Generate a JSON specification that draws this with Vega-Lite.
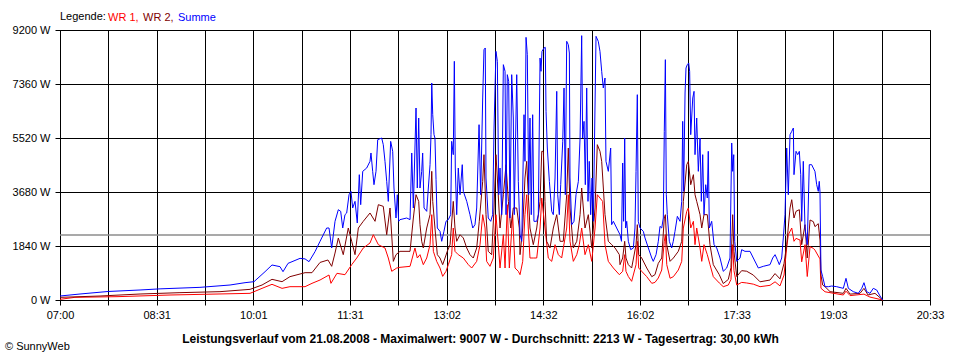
{
"$schema": "https://vega.github.io/schema/vega-lite/v6.json",
"width": 870, "height": 270,
"autosize": {"type": "none"},
"padding": {"left": 60, "top": 30, "right": 30, "bottom": 60},
"background": "white",
"title": {"text": "© SunnyWeb", "orient": "bottom", "anchor": "start", "frame": "group", "dx": -55, "offset": -3, "fontSize": 11, "font": "Liberation Sans", "fontWeight": "normal", "color": "black"},
"config": {
  "font": "Liberation Sans",
  "view": {"stroke": "black", "strokeWidth": 1},
  "axis": {"labelFont": "Liberation Sans", "labelFontSize": 11, "labelColor": "black", "domainColor": "black", "tickColor": "black", "gridColor": "black", "gridOpacity": 1, "gridWidth": 1, "tickSize": 5, "domainWidth": 1, "tickWidth": 1},
  "legend": {"orient": "none", "legendX": 0, "legendY": -18, "direction": "horizontal", "titleOrient": "left", "titleFontWeight": "normal", "titleFontSize": 11, "titleFont": "Liberation Sans", "titleColor": "black", "titlePadding": -9, "labelFont": "Liberation Sans", "labelFontSize": 11, "symbolSize": 0, "symbolStrokeWidth": 0, "symbolOpacity": 0, "labelOffset": 0, "columnPadding": -7, "gridAlign": "none", "padding": 0}
},
"datasets": {
"summe": [
{"s":"Summe","t":420,"w":136},{"s":"Summe","t":438.7,"w":204},{"s":"Summe","t":464.9,"w":290},{"s":"Summe","t":494.8,"w":341},{"s":"Summe","t":513.5,"w":380},{"s":"Summe","t":550.8,"w":431},{"s":"Summe","t":578.9,"w":511},{"s":"Summe","t":592.9,"w":590},{"s":"Summe","t":601.3,"w":624},{"s":"Summe","t":611.6,"w":965},{"s":"Summe","t":618.1,"w":1193},{"s":"Summe","t":625.6,"w":1136},{"s":"Summe","t":628.4,"w":965},{"s":"Summe","t":633.1,"w":1249},{"s":"Summe","t":644.3,"w":1419},{"s":"Summe","t":649.0,"w":1400},{"s":"Summe","t":652.7,"w":1306},{"s":"Summe","t":658.3,"w":1647},{"s":"Summe","t":663.0,"w":2000},{"s":"Summe","t":669.2,"w":2453},{"s":"Summe","t":671.4,"w":2453},{"s":"Summe","t":673.9,"w":1772},{"s":"Summe","t":677.0,"w":2681},{"s":"Summe","t":680.1,"w":3077},{"s":"Summe","t":682.3,"w":3020},{"s":"Summe","t":684.2,"w":2453},{"s":"Summe","t":686.3,"w":2907},{"s":"Summe","t":687.9,"w":2964},{"s":"Summe","t":690.1,"w":3588},{"s":"Summe","t":691.9,"w":3702},{"s":"Summe","t":693.5,"w":3135},{"s":"Summe","t":695.7,"w":3361},{"s":"Summe","t":697.8,"w":2624},{"s":"Summe","t":699.7,"w":4270},{"s":"Summe","t":701.0,"w":3248},{"s":"Summe","t":702.9,"w":4384},{"s":"Summe","t":706.6,"w":4497},{"s":"Summe","t":709.7,"w":4725},{"s":"Summe","t":710.6,"w":5009},{"s":"Summe","t":712.2,"w":4384},{"s":"Summe","t":713.4,"w":3929},{"s":"Summe","t":715.3,"w":4384},{"s":"Summe","t":716.9,"w":5463},{"s":"Summe","t":720.6,"w":5520},{"s":"Summe","t":722.1,"w":5293},{"s":"Summe","t":723.7,"w":4725},{"s":"Summe","t":725.3,"w":4043},{"s":"Summe","t":726.8,"w":3361},{"s":"Summe","t":729.0,"w":5406},{"s":"Summe","t":730.9,"w":5066},{"s":"Summe","t":732.1,"w":3816},{"s":"Summe","t":734.0,"w":2794},{"s":"Summe","t":735.2,"w":3588},{"s":"Summe","t":736.5,"w":2681},{"s":"Summe","t":737.7,"w":2738},{"s":"Summe","t":744.0,"w":2794},{"s":"Summe","t":747.1,"w":2738},{"s":"Summe","t":748.7,"w":5009},{"s":"Summe","t":750.2,"w":3135},{"s":"Summe","t":752.7,"w":6542},{"s":"Summe","t":753.9,"w":3816},{"s":"Summe","t":755.2,"w":6201},{"s":"Summe","t":756.4,"w":3816},{"s":"Summe","t":758.0,"w":4384},{"s":"Summe","t":758.9,"w":5009},{"s":"Summe","t":760.2,"w":3135},{"s":"Summe","t":762.7,"w":3021},{"s":"Summe","t":764.2,"w":3816},{"s":"Summe","t":765.8,"w":4611},{"s":"Summe","t":766.7,"w":5633},{"s":"Summe","t":767.4,"w":7394},{"s":"Summe","t":768.3,"w":6314},{"s":"Summe","t":769.5,"w":5633},{"s":"Summe","t":770.4,"w":5520},{"s":"Summe","t":771.4,"w":4100},{"s":"Summe","t":772.6,"w":2453},{"s":"Summe","t":775.1,"w":2340},{"s":"Summe","t":776.7,"w":2000},{"s":"Summe","t":778.8,"w":2340},{"s":"Summe","t":780.7,"w":2681},{"s":"Summe","t":782.9,"w":2738},{"s":"Summe","t":785.1,"w":2907},{"s":"Summe","t":786.0,"w":5406},{"s":"Summe","t":787.5,"w":4952},{"s":"Summe","t":788.5,"w":8133},{"s":"Summe","t":789.4,"w":4497},{"s":"Summe","t":790.7,"w":2907},{"s":"Summe","t":792.2,"w":4497},{"s":"Summe","t":793.8,"w":3588},{"s":"Summe","t":795.9,"w":4611},{"s":"Summe","t":796.9,"w":3702},{"s":"Summe","t":800.1,"w":3361},{"s":"Summe","t":803.1,"w":2907},{"s":"Summe","t":805.7,"w":2453},{"s":"Summe","t":807.8,"w":2567},{"s":"Summe","t":809.4,"w":3135},{"s":"Summe","t":811.6,"w":5974},{"s":"Summe","t":813.1,"w":3588},{"s":"Summe","t":815.0,"w":6883},{"s":"Summe","t":816.2,"w":8529},{"s":"Summe","t":817.4,"w":8587},{"s":"Summe","t":818.1,"w":4157},{"s":"Summe","t":820.2,"w":2794},{"s":"Summe","t":822.5,"w":2681},{"s":"Summe","t":824.3,"w":2907},{"s":"Summe","t":825.6,"w":5860},{"s":"Summe","t":827.4,"w":8473},{"s":"Summe","t":828.7,"w":8133},{"s":"Summe","t":830.0,"w":3588},{"s":"Summe","t":831.2,"w":4497},{"s":"Summe","t":832.8,"w":2907},{"s":"Summe","t":834.3,"w":8019},{"s":"Summe","t":835.9,"w":7792},{"s":"Summe","t":836.8,"w":2907},{"s":"Summe","t":838.0,"w":7678},{"s":"Summe","t":839.3,"w":7451},{"s":"Summe","t":840.5,"w":2794},{"s":"Summe","t":842.1,"w":7678},{"s":"Summe","t":843.6,"w":6201},{"s":"Summe","t":844.5,"w":2907},{"s":"Summe","t":846.8,"w":7678},{"s":"Summe","t":848.3,"w":4043},{"s":"Summe","t":849.9,"w":2226},{"s":"Summe","t":851.5,"w":2000},{"s":"Summe","t":853.6,"w":6314},{"s":"Summe","t":854.5,"w":4725},{"s":"Summe","t":855.5,"w":8950},{"s":"Summe","t":856.7,"w":8359},{"s":"Summe","t":858.0,"w":3588},{"s":"Summe","t":859.2,"w":6201},{"s":"Summe","t":860.4,"w":2907},{"s":"Summe","t":861.7,"w":6314},{"s":"Summe","t":862.9,"w":2681},{"s":"Summe","t":865.5,"w":2681},{"s":"Summe","t":867.0,"w":2907},{"s":"Summe","t":868.6,"w":8245},{"s":"Summe","t":869.5,"w":7792},{"s":"Summe","t":870.4,"w":8473},{"s":"Summe","t":872.3,"w":8587},{"s":"Summe","t":873.5,"w":8609},{"s":"Summe","t":874.2,"w":6428},{"s":"Summe","t":875.4,"w":5179},{"s":"Summe","t":877.3,"w":4043},{"s":"Summe","t":879.5,"w":3021},{"s":"Summe","t":881.0,"w":2907},{"s":"Summe","t":882.6,"w":4157},{"s":"Summe","t":884.2,"w":7110},{"s":"Summe","t":885.1,"w":3588},{"s":"Summe","t":886.6,"w":2907},{"s":"Summe","t":887.9,"w":3929},{"s":"Summe","t":889.8,"w":5406},{"s":"Summe","t":891.0,"w":7224},{"s":"Summe","t":892.2,"w":3588},{"s":"Summe","t":893.5,"w":8814},{"s":"Summe","t":895.0,"w":8700},{"s":"Summe","t":896.0,"w":8416},{"s":"Summe","t":896.6,"w":4157},{"s":"Summe","t":898.2,"w":2567},{"s":"Summe","t":900.3,"w":2681},{"s":"Summe","t":902.2,"w":3588},{"s":"Summe","t":904.4,"w":4043},{"s":"Summe","t":906.0,"w":5520},{"s":"Summe","t":907.5,"w":9007},{"s":"Summe","t":908.4,"w":5520},{"s":"Summe","t":909.7,"w":6087},{"s":"Summe","t":910.9,"w":3929},{"s":"Summe","t":912.2,"w":7224},{"s":"Summe","t":913.4,"w":3361},{"s":"Summe","t":914.6,"w":4725},{"s":"Summe","t":915.9,"w":2907},{"s":"Summe","t":917.2,"w":4157},{"s":"Summe","t":918.4,"w":2681},{"s":"Summe","t":920.9,"w":8984},{"s":"Summe","t":923.0,"w":8814},{"s":"Summe","t":924.6,"w":8473},{"s":"Summe","t":926.2,"w":7792},{"s":"Summe","t":927.7,"w":7224},{"s":"Summe","t":929.3,"w":7564},{"s":"Summe","t":930.2,"w":4725},{"s":"Summe","t":932.4,"w":4384},{"s":"Summe","t":934.6,"w":5179},{"s":"Summe","t":935.5,"w":2567},{"s":"Summe","t":937.1,"w":2681},{"s":"Summe","t":940.2,"w":2453},{"s":"Summe","t":943.3,"w":2226},{"s":"Summe","t":944.7,"w":2000},{"s":"Summe","t":945.8,"w":4668},{"s":"Summe","t":946.7,"w":2681},{"s":"Summe","t":947.7,"w":5520},{"s":"Summe","t":948.6,"w":2453},{"s":"Summe","t":949.6,"w":2681},{"s":"Summe","t":951.1,"w":2000},{"s":"Summe","t":953.3,"w":1715},{"s":"Summe","t":955.8,"w":1772},{"s":"Summe","t":957.3,"w":2453},{"s":"Summe","t":958.3,"w":4384},{"s":"Summe","t":959.5,"w":6996},{"s":"Summe","t":960.4,"w":2681},{"s":"Summe","t":962.0,"w":2453},{"s":"Summe","t":965.1,"w":2340},{"s":"Summe","t":966.7,"w":2113},{"s":"Summe","t":969.8,"w":1772},{"s":"Summe","t":973.0,"w":1431},{"s":"Summe","t":974.4,"w":1317},{"s":"Summe","t":977.0,"w":1545},{"s":"Summe","t":979.1,"w":2000},{"s":"Summe","t":980.7,"w":2510},{"s":"Summe","t":982.3,"w":2453},{"s":"Summe","t":983.8,"w":2794},{"s":"Summe","t":984.7,"w":5747},{"s":"Summe","t":985.7,"w":8189},{"s":"Summe","t":986.6,"w":3588},{"s":"Summe","t":987.5,"w":2907},{"s":"Summe","t":989.4,"w":2000},{"s":"Summe","t":991.6,"w":1772},{"s":"Summe","t":993.1,"w":2000},{"s":"Summe","t":994.7,"w":2340},{"s":"Summe","t":996.9,"w":2851},{"s":"Summe","t":999.4,"w":2681},{"s":"Summe","t":1001.0,"w":3361},{"s":"Summe","t":1001.9,"w":6087},{"s":"Summe","t":1002.8,"w":3702},{"s":"Summe","t":1004.1,"w":7053},{"s":"Summe","t":1005.0,"w":7905},{"s":"Summe","t":1006.2,"w":8019},{"s":"Summe","t":1007.5,"w":8075},{"s":"Summe","t":1008.4,"w":7792},{"s":"Summe","t":1009.4,"w":5633},{"s":"Summe","t":1011.3,"w":6883},{"s":"Summe","t":1012.5,"w":7110},{"s":"Summe","t":1013.4,"w":4952},{"s":"Summe","t":1015.0,"w":6201},{"s":"Summe","t":1016.5,"w":4384},{"s":"Summe","t":1018.1,"w":5520},{"s":"Summe","t":1019.3,"w":3361},{"s":"Summe","t":1020.6,"w":4952},{"s":"Summe","t":1021.8,"w":2907},{"s":"Summe","t":1023.4,"w":3929},{"s":"Summe","t":1024.9,"w":3475},{"s":"Summe","t":1025.8,"w":5066},{"s":"Summe","t":1026.8,"w":2453},{"s":"Summe","t":1029.0,"w":2681},{"s":"Summe","t":1031.2,"w":1885},{"s":"Summe","t":1033.7,"w":1772},{"s":"Summe","t":1036.8,"w":1431},{"s":"Summe","t":1039.8,"w":977},{"s":"Summe","t":1043.0,"w":1090},{"s":"Summe","t":1046.1,"w":1431},{"s":"Summe","t":1047.7,"w":5350},{"s":"Summe","t":1048.6,"w":4384},{"s":"Summe","t":1049.6,"w":4952},{"s":"Summe","t":1050.5,"w":2000},{"s":"Summe","t":1052.4,"w":1317},{"s":"Summe","t":1055.5,"w":1431},{"s":"Summe","t":1057.0,"w":1715},{"s":"Summe","t":1060.1,"w":1658},{"s":"Summe","t":1064.8,"w":1658},{"s":"Summe","t":1067.9,"w":1431},{"s":"Summe","t":1072.6,"w":1090},{"s":"Summe","t":1077.2,"w":1147},{"s":"Summe","t":1083.5,"w":1204},{"s":"Summe","t":1086.0,"w":1431},{"s":"Summe","t":1088.2,"w":1545},{"s":"Summe","t":1090.3,"w":1375},{"s":"Summe","t":1092.2,"w":1204},{"s":"Summe","t":1094.4,"w":1431},{"s":"Summe","t":1095.9,"w":2113},{"s":"Summe","t":1097.5,"w":2907},{"s":"Summe","t":1099.1,"w":5179},{"s":"Summe","t":1100.6,"w":3588},{"s":"Summe","t":1102.2,"w":5633},{"s":"Summe","t":1103.8,"w":5747},{"s":"Summe","t":1105.3,"w":5860},{"s":"Summe","t":1105.9,"w":4270},{"s":"Summe","t":1107.8,"w":5066},{"s":"Summe","t":1109.4,"w":4952},{"s":"Summe","t":1110.9,"w":5066},{"s":"Summe","t":1112.2,"w":4270},{"s":"Summe","t":1113.1,"w":2681},{"s":"Summe","t":1114.6,"w":4725},{"s":"Summe","t":1116.2,"w":2453},{"s":"Summe","t":1118.3,"w":1885},{"s":"Summe","t":1120.2,"w":4611},{"s":"Summe","t":1122.4,"w":4611},{"s":"Summe","t":1123.9,"w":4497},{"s":"Summe","t":1125.5,"w":4384},{"s":"Summe","t":1127.1,"w":3929},{"s":"Summe","t":1128.6,"w":3702},{"s":"Summe","t":1129.5,"w":4043},{"s":"Summe","t":1130.2,"w":3690},{"s":"Summe","t":1131.1,"w":1022},{"s":"Summe","t":1132.7,"w":795},{"s":"Summe","t":1134.9,"w":454},{"s":"Summe","t":1138.0,"w":454},{"s":"Summe","t":1141.1,"w":476},{"s":"Summe","t":1145.8,"w":454},{"s":"Summe","t":1152.0,"w":397},{"s":"Summe","t":1154.5,"w":738},{"s":"Summe","t":1156.7,"w":397},{"s":"Summe","t":1161.3,"w":284},{"s":"Summe","t":1166.0,"w":227},{"s":"Summe","t":1169.2,"w":397},{"s":"Summe","t":1171.3,"w":590},{"s":"Summe","t":1173.8,"w":284},{"s":"Summe","t":1176.9,"w":227},{"s":"Summe","t":1180.0,"w":397},{"s":"Summe","t":1183.2,"w":340},{"s":"Summe","t":1186.3,"w":136},{"s":"Summe","t":1188.8,"w":0}
],
"wr2": [
{"s":"WR 2","t":420,"w":91},{"s":"WR 2","t":457.4,"w":136},{"s":"WR 2","t":494.8,"w":204},{"s":"WR 2","t":532.1,"w":250},{"s":"WR 2","t":569.5,"w":284},{"s":"WR 2","t":597.6,"w":363},{"s":"WR 2","t":608.8,"w":511},{"s":"WR 2","t":618.1,"w":704},{"s":"WR 2","t":627.5,"w":624},{"s":"WR 2","t":634.9,"w":795},{"s":"WR 2","t":649.0,"w":931},{"s":"WR 2","t":655.5,"w":931},{"s":"WR 2","t":663.0,"w":1280},{"s":"WR 2","t":670.4,"w":1363},{"s":"WR 2","t":673.9,"w":1147},{"s":"WR 2","t":677.0,"w":1600},{"s":"WR 2","t":680.1,"w":2113},{"s":"WR 2","t":684.7,"w":1545},{"s":"WR 2","t":689.4,"w":2453},{"s":"WR 2","t":692.6,"w":2000},{"s":"WR 2","t":695.7,"w":1545},{"s":"WR 2","t":698.8,"w":2453},{"s":"WR 2","t":703.4,"w":2681},{"s":"WR 2","t":709.7,"w":2964},{"s":"WR 2","t":714.4,"w":2681},{"s":"WR 2","t":717.5,"w":3248},{"s":"WR 2","t":722.1,"w":3191},{"s":"WR 2","t":725.3,"w":2226},{"s":"WR 2","t":728.4,"w":3135},{"s":"WR 2","t":731.5,"w":1317},{"s":"WR 2","t":734.0,"w":1545},{"s":"WR 2","t":737.7,"w":1658},{"s":"WR 2","t":747.1,"w":1658},{"s":"WR 2","t":750.2,"w":2794},{"s":"WR 2","t":752.7,"w":3588},{"s":"WR 2","t":755.2,"w":3361},{"s":"WR 2","t":756.4,"w":2567},{"s":"WR 2","t":758.0,"w":2000},{"s":"WR 2","t":759.5,"w":1772},{"s":"WR 2","t":762.7,"w":2453},{"s":"WR 2","t":765.8,"w":2907},{"s":"WR 2","t":767.4,"w":4384},{"s":"WR 2","t":768.3,"w":3361},{"s":"WR 2","t":770.4,"w":2453},{"s":"WR 2","t":772.6,"w":1545},{"s":"WR 2","t":775.1,"w":1431},{"s":"WR 2","t":777.6,"w":1204},{"s":"WR 2","t":779.8,"w":1431},{"s":"WR 2","t":781.9,"w":1658},{"s":"WR 2","t":784.5,"w":1885},{"s":"WR 2","t":787.5,"w":3361},{"s":"WR 2","t":789.1,"w":2453},{"s":"WR 2","t":790.7,"w":2000},{"s":"WR 2","t":793.8,"w":2226},{"s":"WR 2","t":796.9,"w":2113},{"s":"WR 2","t":800.1,"w":1772},{"s":"WR 2","t":803.1,"w":1545},{"s":"WR 2","t":806.2,"w":1431},{"s":"WR 2","t":809.4,"w":1772},{"s":"WR 2","t":811.8,"w":2681},{"s":"WR 2","t":815.0,"w":4043},{"s":"WR 2","t":816.2,"w":4952},{"s":"WR 2","t":818.1,"w":2907},{"s":"WR 2","t":820.2,"w":1658},{"s":"WR 2","t":823.4,"w":1545},{"s":"WR 2","t":825.6,"w":3135},{"s":"WR 2","t":827.4,"w":4952},{"s":"WR 2","t":828.7,"w":4157},{"s":"WR 2","t":831.2,"w":2453},{"s":"WR 2","t":834.3,"w":3588},{"s":"WR 2","t":836.8,"w":4611},{"s":"WR 2","t":839.0,"w":3361},{"s":"WR 2","t":841.2,"w":2453},{"s":"WR 2","t":843.6,"w":3135},{"s":"WR 2","t":846.8,"w":3135},{"s":"WR 2","t":849.2,"w":2453},{"s":"WR 2","t":849.9,"w":1545},{"s":"WR 2","t":852.4,"w":2453},{"s":"WR 2","t":854.5,"w":4157},{"s":"WR 2","t":856.1,"w":4725},{"s":"WR 2","t":857.6,"w":3588},{"s":"WR 2","t":859.2,"w":2453},{"s":"WR 2","t":862.3,"w":1885},{"s":"WR 2","t":865.5,"w":2453},{"s":"WR 2","t":868.6,"w":3361},{"s":"WR 2","t":870.2,"w":5066},{"s":"WR 2","t":871.7,"w":5066},{"s":"WR 2","t":873.2,"w":3361},{"s":"WR 2","t":874.8,"w":2000},{"s":"WR 2","t":877.9,"w":1772},{"s":"WR 2","t":881.0,"w":2453},{"s":"WR 2","t":884.2,"w":2907},{"s":"WR 2","t":887.3,"w":2000},{"s":"WR 2","t":890.3,"w":2000},{"s":"WR 2","t":893.5,"w":3588},{"s":"WR 2","t":895.0,"w":5179},{"s":"WR 2","t":896.6,"w":3135},{"s":"WR 2","t":899.7,"w":1772},{"s":"WR 2","t":902.9,"w":2000},{"s":"WR 2","t":906.0,"w":2907},{"s":"WR 2","t":907.5,"w":3816},{"s":"WR 2","t":910.6,"w":2453},{"s":"WR 2","t":913.7,"w":2907},{"s":"WR 2","t":916.9,"w":1772},{"s":"WR 2","t":920.0,"w":3135},{"s":"WR 2","t":922.1,"w":5293},{"s":"WR 2","t":924.6,"w":5066},{"s":"WR 2","t":926.2,"w":4725},{"s":"WR 2","t":929.3,"w":2907},{"s":"WR 2","t":932.4,"w":2000},{"s":"WR 2","t":935.6,"w":1885},{"s":"WR 2","t":938.7,"w":1772},{"s":"WR 2","t":942.7,"w":1545},{"s":"WR 2","t":943.3,"w":1204},{"s":"WR 2","t":945.8,"w":1431},{"s":"WR 2","t":947.7,"w":2000},{"s":"WR 2","t":948.9,"w":1431},{"s":"WR 2","t":951.1,"w":1204},{"s":"WR 2","t":954.2,"w":1090},{"s":"WR 2","t":958.3,"w":1885},{"s":"WR 2","t":959.5,"w":2567},{"s":"WR 2","t":960.8,"w":1545},{"s":"WR 2","t":963.6,"w":1431},{"s":"WR 2","t":968.3,"w":1090},{"s":"WR 2","t":973.0,"w":795},{"s":"WR 2","t":976.0,"w":863},{"s":"WR 2","t":979.1,"w":1250},{"s":"WR 2","t":982.3,"w":1431},{"s":"WR 2","t":984.7,"w":2794},{"s":"WR 2","t":985.7,"w":2907},{"s":"WR 2","t":987.0,"w":1885},{"s":"WR 2","t":990.1,"w":1317},{"s":"WR 2","t":993.2,"w":1431},{"s":"WR 2","t":997.8,"w":1658},{"s":"WR 2","t":1001.0,"w":2000},{"s":"WR 2","t":1002.5,"w":3361},{"s":"WR 2","t":1005.7,"w":4611},{"s":"WR 2","t":1007.2,"w":4725},{"s":"WR 2","t":1009.4,"w":3929},{"s":"WR 2","t":1011.9,"w":4270},{"s":"WR 2","t":1013.4,"w":3588},{"s":"WR 2","t":1015.0,"w":3361},{"s":"WR 2","t":1018.1,"w":2907},{"s":"WR 2","t":1019.7,"w":2453},{"s":"WR 2","t":1021.8,"w":2907},{"s":"WR 2","t":1024.9,"w":2907},{"s":"WR 2","t":1027.4,"w":1885},{"s":"WR 2","t":1030.5,"w":1204},{"s":"WR 2","t":1036.1,"w":863},{"s":"WR 2","t":1039.8,"w":560},{"s":"WR 2","t":1044.5,"w":700},{"s":"WR 2","t":1047.0,"w":1100},{"s":"WR 2","t":1048.6,"w":2907},{"s":"WR 2","t":1049.8,"w":1658},{"s":"WR 2","t":1052.4,"w":800},{"s":"WR 2","t":1057.0,"w":1000},{"s":"WR 2","t":1061.7,"w":980},{"s":"WR 2","t":1067.9,"w":850},{"s":"WR 2","t":1074.2,"w":620},{"s":"WR 2","t":1083.5,"w":680},{"s":"WR 2","t":1088.2,"w":900},{"s":"WR 2","t":1092.8,"w":720},{"s":"WR 2","t":1096.6,"w":1250},{"s":"WR 2","t":1099.1,"w":1885},{"s":"WR 2","t":1102.2,"w":3135},{"s":"WR 2","t":1103.8,"w":3418},{"s":"WR 2","t":1105.9,"w":2794},{"s":"WR 2","t":1107.8,"w":3021},{"s":"WR 2","t":1110.9,"w":3077},{"s":"WR 2","t":1113.1,"w":1885},{"s":"WR 2","t":1116.2,"w":2567},{"s":"WR 2","t":1118.3,"w":1431},{"s":"WR 2","t":1120.9,"w":2726},{"s":"WR 2","t":1124.0,"w":2670},{"s":"WR 2","t":1125.5,"w":2500},{"s":"WR 2","t":1128.6,"w":2600},{"s":"WR 2","t":1130.2,"w":2044},{"s":"WR 2","t":1131.1,"w":850},{"s":"WR 2","t":1132.7,"w":511},{"s":"WR 2","t":1134.9,"w":454},{"s":"WR 2","t":1139.6,"w":284},{"s":"WR 2","t":1152.0,"w":227},{"s":"WR 2","t":1154.5,"w":397},{"s":"WR 2","t":1158.3,"w":200},{"s":"WR 2","t":1167.6,"w":227},{"s":"WR 2","t":1171.3,"w":397},{"s":"WR 2","t":1175.1,"w":170},{"s":"WR 2","t":1181.6,"w":227},{"s":"WR 2","t":1188.8,"w":0}
],
"wr1": [
{"s":"WR 1","t":420,"w":23},{"s":"WR 1","t":434.0,"w":91},{"s":"WR 1","t":474.2,"w":114},{"s":"WR 1","t":522.8,"w":170},{"s":"WR 1","t":597.6,"w":227},{"s":"WR 1","t":608.8,"w":397},{"s":"WR 1","t":618.1,"w":534},{"s":"WR 1","t":627.5,"w":397},{"s":"WR 1","t":634.9,"w":454},{"s":"WR 1","t":649.0,"w":454},{"s":"WR 1","t":655.5,"w":568},{"s":"WR 1","t":663.0,"w":681},{"s":"WR 1","t":671.4,"w":852},{"s":"WR 1","t":673.2,"w":568},{"s":"WR 1","t":678.8,"w":909},{"s":"WR 1","t":686.3,"w":863},{"s":"WR 1","t":692.6,"w":1204},{"s":"WR 1","t":697.3,"w":1431},{"s":"WR 1","t":703.4,"w":1772},{"s":"WR 1","t":709.7,"w":1942},{"s":"WR 1","t":712.8,"w":2226},{"s":"WR 1","t":717.5,"w":1885},{"s":"WR 1","t":723.7,"w":1772},{"s":"WR 1","t":726.8,"w":1431},{"s":"WR 1","t":730.0,"w":977},{"s":"WR 1","t":734.7,"w":1090},{"s":"WR 1","t":737.7,"w":1113},{"s":"WR 1","t":747.1,"w":1147},{"s":"WR 1","t":751.7,"w":1772},{"s":"WR 1","t":753.9,"w":1431},{"s":"WR 1","t":756.4,"w":1545},{"s":"WR 1","t":759.5,"w":1204},{"s":"WR 1","t":762.7,"w":1431},{"s":"WR 1","t":765.8,"w":1885},{"s":"WR 1","t":767.4,"w":2907},{"s":"WR 1","t":768.9,"w":1658},{"s":"WR 1","t":772.0,"w":1317},{"s":"WR 1","t":775.1,"w":1090},{"s":"WR 1","t":777.6,"w":806},{"s":"WR 1","t":780.7,"w":977},{"s":"WR 1","t":782.9,"w":1204},{"s":"WR 1","t":786.0,"w":1545},{"s":"WR 1","t":787.5,"w":2453},{"s":"WR 1","t":789.1,"w":1658},{"s":"WR 1","t":792.2,"w":1545},{"s":"WR 1","t":796.9,"w":1431},{"s":"WR 1","t":801.6,"w":1204},{"s":"WR 1","t":804.7,"w":1090},{"s":"WR 1","t":809.4,"w":1317},{"s":"WR 1","t":812.5,"w":1885},{"s":"WR 1","t":815.0,"w":2907},{"s":"WR 1","t":817.2,"w":2453},{"s":"WR 1","t":818.7,"w":1317},{"s":"WR 1","t":821.8,"w":1147},{"s":"WR 1","t":824.9,"w":1431},{"s":"WR 1","t":827.4,"w":2907},{"s":"WR 1","t":829.6,"w":1885},{"s":"WR 1","t":831.2,"w":1090},{"s":"WR 1","t":834.3,"w":2226},{"s":"WR 1","t":835.9,"w":1090},{"s":"WR 1","t":838.0,"w":3248},{"s":"WR 1","t":839.9,"w":1090},{"s":"WR 1","t":843.0,"w":2907},{"s":"WR 1","t":845.2,"w":1090},{"s":"WR 1","t":848.3,"w":977},{"s":"WR 1","t":849.9,"w":863},{"s":"WR 1","t":852.4,"w":1317},{"s":"WR 1","t":854.5,"w":2907},{"s":"WR 1","t":856.1,"w":3588},{"s":"WR 1","t":857.6,"w":2453},{"s":"WR 1","t":859.2,"w":1431},{"s":"WR 1","t":862.3,"w":1431},{"s":"WR 1","t":865.5,"w":1431},{"s":"WR 1","t":868.6,"w":2453},{"s":"WR 1","t":870.2,"w":3475},{"s":"WR 1","t":873.2,"w":2453},{"s":"WR 1","t":876.3,"w":1431},{"s":"WR 1","t":879.5,"w":1317},{"s":"WR 1","t":882.6,"w":1885},{"s":"WR 1","t":885.7,"w":1545},{"s":"WR 1","t":888.8,"w":1431},{"s":"WR 1","t":893.5,"w":2453},{"s":"WR 1","t":895.0,"w":3588},{"s":"WR 1","t":896.6,"w":2000},{"s":"WR 1","t":899.7,"w":1317},{"s":"WR 1","t":902.9,"w":1545},{"s":"WR 1","t":905.3,"w":1885},{"s":"WR 1","t":907.5,"w":2453},{"s":"WR 1","t":910.6,"w":1545},{"s":"WR 1","t":913.7,"w":1885},{"s":"WR 1","t":916.9,"w":1317},{"s":"WR 1","t":920.0,"w":2453},{"s":"WR 1","t":922.1,"w":3588},{"s":"WR 1","t":924.6,"w":3475},{"s":"WR 1","t":927.1,"w":3361},{"s":"WR 1","t":929.3,"w":1885},{"s":"WR 1","t":932.4,"w":1317},{"s":"WR 1","t":937.1,"w":1090},{"s":"WR 1","t":942.7,"w":863},{"s":"WR 1","t":945.8,"w":977},{"s":"WR 1","t":947.7,"w":1545},{"s":"WR 1","t":948.9,"w":977},{"s":"WR 1","t":951.1,"w":800},{"s":"WR 1","t":954.2,"w":636},{"s":"WR 1","t":958.3,"w":1204},{"s":"WR 1","t":959.5,"w":2000},{"s":"WR 1","t":960.8,"w":1090},{"s":"WR 1","t":963.6,"w":977},{"s":"WR 1","t":968.3,"w":795},{"s":"WR 1","t":973.0,"w":568},{"s":"WR 1","t":976.0,"w":600},{"s":"WR 1","t":979.1,"w":750},{"s":"WR 1","t":982.3,"w":1022},{"s":"WR 1","t":984.7,"w":2000},{"s":"WR 1","t":985.7,"w":2226},{"s":"WR 1","t":987.0,"w":1204},{"s":"WR 1","t":990.1,"w":740},{"s":"WR 1","t":993.2,"w":795},{"s":"WR 1","t":997.8,"w":1022},{"s":"WR 1","t":1001.0,"w":1317},{"s":"WR 1","t":1002.5,"w":2453},{"s":"WR 1","t":1005.7,"w":3021},{"s":"WR 1","t":1007.2,"w":3135},{"s":"WR 1","t":1009.4,"w":2453},{"s":"WR 1","t":1011.9,"w":2681},{"s":"WR 1","t":1013.4,"w":1885},{"s":"WR 1","t":1015.0,"w":2453},{"s":"WR 1","t":1018.1,"w":1772},{"s":"WR 1","t":1019.7,"w":1317},{"s":"WR 1","t":1021.8,"w":1885},{"s":"WR 1","t":1024.9,"w":1545},{"s":"WR 1","t":1027.4,"w":1204},{"s":"WR 1","t":1030.5,"w":795},{"s":"WR 1","t":1036.1,"w":580},{"s":"WR 1","t":1039.8,"w":454},{"s":"WR 1","t":1044.5,"w":510},{"s":"WR 1","t":1047.0,"w":700},{"s":"WR 1","t":1048.6,"w":1885},{"s":"WR 1","t":1049.8,"w":1000},{"s":"WR 1","t":1052.4,"w":510},{"s":"WR 1","t":1057.0,"w":600},{"s":"WR 1","t":1061.7,"w":580},{"s":"WR 1","t":1067.9,"w":540},{"s":"WR 1","t":1074.2,"w":454},{"s":"WR 1","t":1083.5,"w":500},{"s":"WR 1","t":1088.2,"w":620},{"s":"WR 1","t":1092.8,"w":480},{"s":"WR 1","t":1096.6,"w":850},{"s":"WR 1","t":1099.1,"w":1800},{"s":"WR 1","t":1100.6,"w":2226},{"s":"WR 1","t":1103.8,"w":2453},{"s":"WR 1","t":1105.9,"w":2000},{"s":"WR 1","t":1107.8,"w":2100},{"s":"WR 1","t":1111.5,"w":2044},{"s":"WR 1","t":1113.1,"w":1300},{"s":"WR 1","t":1116.2,"w":1885},{"s":"WR 1","t":1118.3,"w":800},{"s":"WR 1","t":1120.9,"w":1817},{"s":"WR 1","t":1124.0,"w":1760},{"s":"WR 1","t":1125.5,"w":1700},{"s":"WR 1","t":1128.6,"w":1500},{"s":"WR 1","t":1130.2,"w":1400},{"s":"WR 1","t":1131.1,"w":400},{"s":"WR 1","t":1134.9,"w":280},{"s":"WR 1","t":1152.0,"w":170},{"s":"WR 1","t":1154.5,"w":300},{"s":"WR 1","t":1158.3,"w":150},{"s":"WR 1","t":1171.3,"w":200},{"s":"WR 1","t":1176.9,"w":100},{"s":"WR 1","t":1188.8,"w":0}
],
"avg": [{"label": "Durchschnitt", "w": 2213}]
},
"layer": [
{
  "data": {"name": "avg"},
  "mark": {"type": "rule", "color": "#8c8c8c", "strokeWidth": 1.5},
  "encoding": {
    "y": {"field": "w", "type": "quantitative", "scale": {"domain": [0, 9200], "nice": false, "zero": true},
      "axis": {"values": [0, 1840, 3680, 5520, 7360, 9200], "labelExpr": "datum.value + ' W'", "title": null, "grid": true, "tickSize": 5, "labelPadding": 5}}
  }
},
{
  "data": {"name": "wr1"},
  "mark": {"type": "line", "strokeWidth": 1},
  "encoding": {
    "x": {"field": "t", "type": "quantitative", "scale": {"domain": [420, 1233], "nice": false, "zero": false},
      "axis": {"values": [420, 465.17, 510.33, 555.5, 600.67, 645.83, 691, 736.17, 781.33, 826.5, 871.67, 916.83, 962, 1007.17, 1052.33, 1097.5, 1142.67, 1187.83, 1233],
        "labelExpr": "['07:00','','08:31','','10:01','','11:31','','13:02','','14:32','','16:02','','17:33','','19:03','','20:33'][round((datum.value-420)/45.1667)]",
        "labelFlush": false, "labelOverlap": false, "labelPadding": 4, "grid": true, "tickSize": 5,
        "title": "Leistungsverlauf vom 21.08.2008 - Maximalwert: 9007 W - Durchschnitt: 2213 W - Tagesertrag: 30,00 kWh",
        "titleFont": "Liberation Sans", "titleFontSize": 12, "titleFontWeight": "bold", "titleColor": "black",
        "titleX": 420, "titleY": 42, "titleAlign": "center", "titleBaseline": "alphabetic"}},
    "y": {"field": "w", "type": "quantitative", "scale": {"domain": [0, 9200], "nice": false, "zero": true},
      "axis": {"values": [0, 1840, 3680, 5520, 7360, 9200], "labelExpr": "datum.value + ' W'", "title": null, "grid": true, "tickSize": 5, "labelPadding": 5}},
    "color": {"field": "s", "type": "nominal", "scale": {"domain": ["WR 1", "WR 2", "Summe"], "range": ["#ff0000", "#800000", "#0000ff"]},
      "legend": {"title": "Legende:",
        "labelExpr": "datum.label == 'Summe' ? datum.label : datum.label + ','",
        "labelColor": {"expr": "datum.value == 'Summe' ? '#0000ff' : (datum.value == 'WR 2' ? '#800000' : '#ff0000')"}}}
  }
},
{
  "data": {"name": "wr2"},
  "mark": {"type": "line", "strokeWidth": 1},
  "encoding": {
    "x": {"field": "t", "type": "quantitative", "scale": {"domain": [420, 1233], "nice": false, "zero": false},
      "axis": {"values": [420, 465.17, 510.33, 555.5, 600.67, 645.83, 691, 736.17, 781.33, 826.5, 871.67, 916.83, 962, 1007.17, 1052.33, 1097.5, 1142.67, 1187.83, 1233],
        "labelExpr": "['07:00','','08:31','','10:01','','11:31','','13:02','','14:32','','16:02','','17:33','','19:03','','20:33'][round((datum.value-420)/45.1667)]",
        "labelFlush": false, "labelOverlap": false, "labelPadding": 4, "grid": true, "tickSize": 5,
        "title": "Leistungsverlauf vom 21.08.2008 - Maximalwert: 9007 W - Durchschnitt: 2213 W - Tagesertrag: 30,00 kWh",
        "titleFont": "Liberation Sans", "titleFontSize": 12, "titleFontWeight": "bold", "titleColor": "black",
        "titleX": 420, "titleY": 42, "titleAlign": "center", "titleBaseline": "alphabetic"}},
    "y": {"field": "w", "type": "quantitative", "scale": {"domain": [0, 9200], "nice": false, "zero": true},
      "axis": {"values": [0, 1840, 3680, 5520, 7360, 9200], "labelExpr": "datum.value + ' W'", "title": null, "grid": true, "tickSize": 5, "labelPadding": 5}},
    "color": {"field": "s", "type": "nominal", "scale": {"domain": ["WR 1", "WR 2", "Summe"], "range": ["#ff0000", "#800000", "#0000ff"]},
      "legend": {"title": "Legende:",
        "labelExpr": "datum.label == 'Summe' ? datum.label : datum.label + ','",
        "labelColor": {"expr": "datum.value == 'Summe' ? '#0000ff' : (datum.value == 'WR 2' ? '#800000' : '#ff0000')"}}}
  }
},
{
  "data": {"name": "summe"},
  "mark": {"type": "line", "strokeWidth": 1},
  "encoding": {
    "x": {"field": "t", "type": "quantitative", "scale": {"domain": [420, 1233], "nice": false, "zero": false},
      "axis": {"values": [420, 465.17, 510.33, 555.5, 600.67, 645.83, 691, 736.17, 781.33, 826.5, 871.67, 916.83, 962, 1007.17, 1052.33, 1097.5, 1142.67, 1187.83, 1233],
        "labelExpr": "['07:00','','08:31','','10:01','','11:31','','13:02','','14:32','','16:02','','17:33','','19:03','','20:33'][round((datum.value-420)/45.1667)]",
        "labelFlush": false, "labelOverlap": false, "labelPadding": 4, "grid": true, "tickSize": 5,
        "title": "Leistungsverlauf vom 21.08.2008 - Maximalwert: 9007 W - Durchschnitt: 2213 W - Tagesertrag: 30,00 kWh",
        "titleFont": "Liberation Sans", "titleFontSize": 12, "titleFontWeight": "bold", "titleColor": "black",
        "titleX": 420, "titleY": 42, "titleAlign": "center", "titleBaseline": "alphabetic"}},
    "y": {"field": "w", "type": "quantitative", "scale": {"domain": [0, 9200], "nice": false, "zero": true},
      "axis": {"values": [0, 1840, 3680, 5520, 7360, 9200], "labelExpr": "datum.value + ' W'", "title": null, "grid": true, "tickSize": 5, "labelPadding": 5}},
    "color": {"field": "s", "type": "nominal", "scale": {"domain": ["WR 1", "WR 2", "Summe"], "range": ["#ff0000", "#800000", "#0000ff"]},
      "legend": {"title": "Legende:",
        "labelExpr": "datum.label == 'Summe' ? datum.label : datum.label + ','",
        "labelColor": {"expr": "datum.value == 'Summe' ? '#0000ff' : (datum.value == 'WR 2' ? '#800000' : '#ff0000')"}}}
  }
}
]
}
